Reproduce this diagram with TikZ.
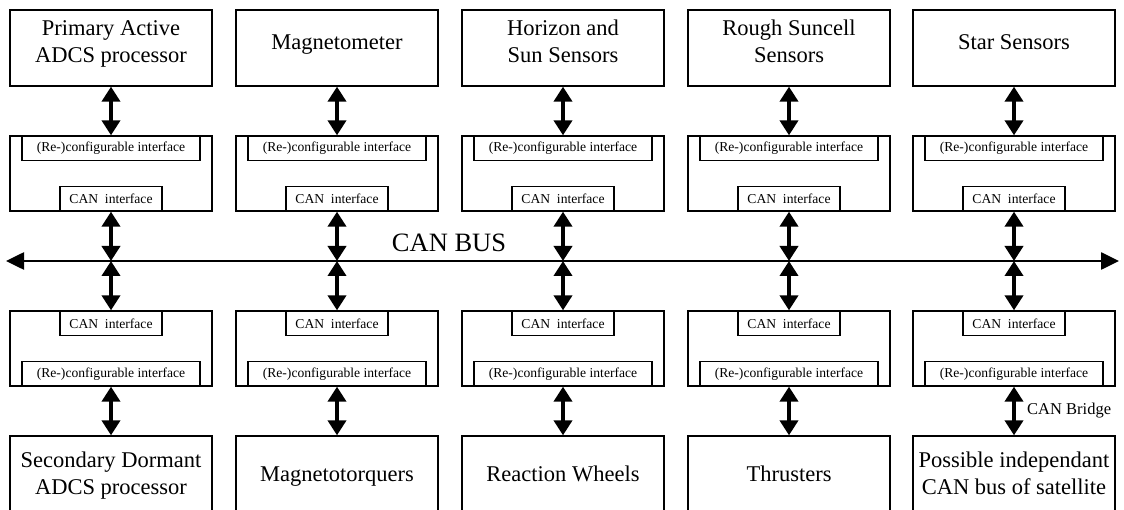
\documentclass[tikz,border=0pt]{standalone}
\usepackage{fontspec}
\setmainfont{Liberation Serif}
\usetikzlibrary{arrows.meta}

\begin{document}
\begin{tikzpicture}[x=1pt,y=-1pt,
  unit/.style={draw, line width=1.3pt, minimum width=202pt, minimum height=76pt, inner sep=0pt},
  iface/.style={draw, line width=1.3pt, minimum width=202pt, minimum height=75pt, inner sep=0pt},
  subbox/.style={draw, line width=1.1pt, inner sep=0pt, font=\fontsize{13.6}{15}\selectfont},
  cfg/.style={subbox, minimum width=178pt, minimum height=24.5pt},
  canif/.style={subbox, minimum width=102pt, minimum height=25pt},
  title/.style={font=\fontsize{22.5}{27}\selectfont, align=center, anchor=center, inner sep=0pt},
  link/.style={line width=4pt, {Triangle[length=15pt,width=18pt]}-{Triangle[length=15pt,width=18pt]}},
  bus/.style={line width=2.6pt, {Triangle[length=18pt,width=17pt]}-{Triangle[length=18pt,width=17pt]}},
]
\useasboundingbox (0,0) rectangle (1124,510);
\clip (0,0) rectangle (1124,510);

% the CAN bus running across all units
\coordinate (busL) at (6,261);
\coordinate (busR) at (1119,261);
\draw[bus] (busL) -- (busR);
\node[font=\fontsize{26.5}{30}\selectfont, inner sep=0pt] (buslabel) at (449,243) {CAN BUS};

\foreach \i/\x/\upper/\lower in {
  1/111/{\strut Primary Active\\\strut ADCS processor}/{\strut Secondary Dormant\\\strut ADCS processor},
  2/337/{\strut Magnetometer}/{\strut Magnetotorquers},
  3/563/{\strut Horizon and\\\strut Sun Sensors}/{\strut Reaction Wheels},
  4/789/{\strut Rough Suncell\\\strut Sensors}/{\strut Thrusters},
  5/1014/{\strut Star Sensors}/{\strut Possible independant\\\strut CAN bus of satellite}}
{
  % upper device and its bus interface
  \node[unit] (top\i) at (\x,48) {};
  \node[title] (toptext\i) at ([yshift=4pt]top\i.center) {\upper};
  \node[iface] (ia\i) at (\x,173.5) {};
  \node[cfg, anchor=north] (iacfg\i) at (ia\i.north) {(Re-)configurable interface};
  \node[canif, anchor=south] (iacan\i) at (ia\i.south) {CAN\ \ interface};
  \draw[link] (top\i.south) -- (ia\i.north);
  \draw[link] (ia\i.south) -- (ia\i.south |- busL);

  % lower device and its bus interface
  \node[iface] (ib\i) at (\x,348.5) {};
  \node[canif, anchor=north] (ibcan\i) at (ib\i.north) {CAN\ \ interface};
  \node[cfg, anchor=south] (ibcfg\i) at (ib\i.south) {(Re-)configurable interface};
  \draw[link] (ib\i.north |- busL) -- (ib\i.north);
  \node[unit, minimum height=84pt] (bot\i) at (\x,478) {};
  \node[title] (bottext\i) at ([yshift=2pt]bot\i.center) {\lower};
  \draw[link] (ib\i.south) -- (bot\i.north);
}

\node[font=\fontsize{16.5}{18}\selectfont, anchor=west, inner sep=0pt] (bridge) at (1027,411) {CAN Bridge};
\end{tikzpicture}
\end{document}
